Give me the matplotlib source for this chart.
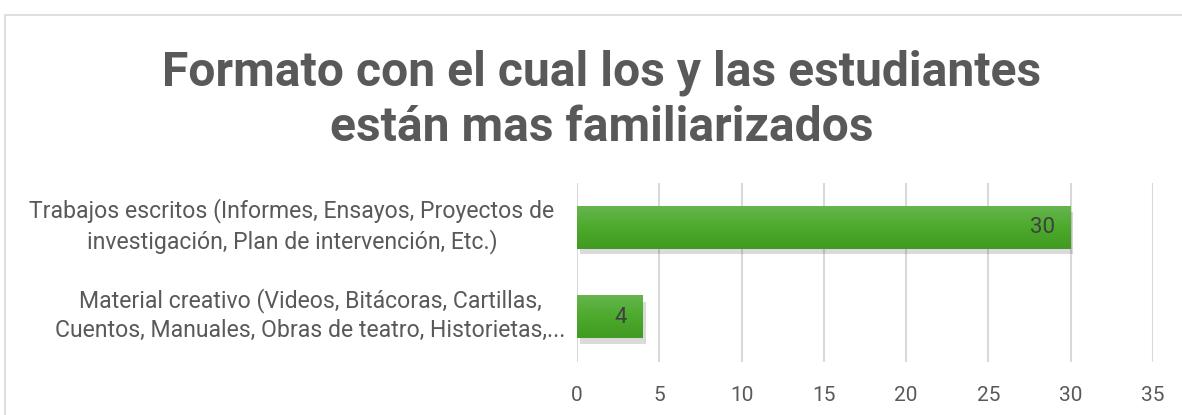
import numpy as np
import matplotlib
matplotlib.use("Agg")
from matplotlib import pyplot as plt
from matplotlib import patheffects as pe
from matplotlib.patches import Rectangle
from matplotlib.colors import LinearSegmentedColormap

# datos
categorias = ["Material creativo (Videos, Bitácoras, Cartillas,\nCuentos, Manuales, Obras de teatro, Historietas,...",
              "Trabajos escritos (Informes, Ensayos, Proyectos de\ninvestigación, Plan de intervención, Etc.)"]
valores = [4, 30]
ticks_x = [0, 5, 10, 15, 20, 25, 30, 35]
titulo = "Formato con el cual los y las estudiantes\nestán mas familiarizados"

gris_texto = "#595959"
plt.rcParams['font.family'] = ['Roboto', 'DejaVu Sans']

fig = plt.figure(figsize=(11.82, 4.15), dpi=100)
ax = fig.add_axes([577 / 1182, 1 - 362 / 415, 576 / 1182, 179 / 415])

# marco del grafico
fig.patches.append(Rectangle((5 / 1182, -0.1), 1.2, 1 - 15 / 415 + 0.1, transform=fig.transFigure,
                             fill=False, edgecolor="#d9d9d9", linewidth=1.2))

y = np.arange(len(valores))
barras = ax.barh(y, valores, height=0.47, color="#4ea72e", zorder=2,
                 path_effects=[pe.SimplePatchShadow(offset=(2, -4), alpha=0.18, shadow_rgbFace="#333333"),
                               pe.Normal()])

# degradado en cada barra
grad = np.linspace(0, 1, 50).reshape(-1, 1)
cmap = LinearSegmentedColormap.from_list("verde", ["#419a22", "#4caa2c", "#66b54e"])
for b in barras:
    x0, y0, w, h = b.get_x(), b.get_y(), b.get_width(), b.get_height()
    ax.imshow(grad, extent=(x0, x0 + w, y0 + h, y0), cmap=cmap, aspect="auto", zorder=3,
              interpolation="bilinear")

for b, v in zip(barras, valores):
    ax.annotate(str(v), (b.get_width(), b.get_y() + b.get_height() / 2), xytext=(-16, 0),
                textcoords="offset pixels", ha="right", va="center", fontsize=16, color="#404040", zorder=4)

ax.set_xlim(0, 35)
ax.set_ylim(-0.5, 1.5)
ax.set_xticks(ticks_x)
ax.set_xticklabels([str(t) for t in ticks_x])
ax.set_yticks([])
ax.tick_params(axis="x", length=0, pad=17, labelsize=15, labelcolor=gris_texto)
ax.grid(axis="x", color="#d9d9d9", linewidth=1.5, zorder=0)
ax.set_axisbelow(True)
for s in ax.spines.values():
    s.set_visible(False)

# etiquetas de categorias
centros = [-0.4635, -0.495]
trans = matplotlib.transforms.blended_transform_factory(ax.transAxes, ax.transData)
for yy, cat, cx in zip(y, categorias, centros):
    ax.text(cx, yy + 0.02, cat, transform=trans, ha="center", va="center", multialignment="center",
            fontsize=16.6, color=gris_texto, linespacing=1.33)

fig.text(602 / 1182, 1 - 100 / 415, titulo, ha="center", va="center", fontsize=34.6,
         fontweight="bold", color=gris_texto, linespacing=1.26)

fig.savefig("out.png", dpi=100)
